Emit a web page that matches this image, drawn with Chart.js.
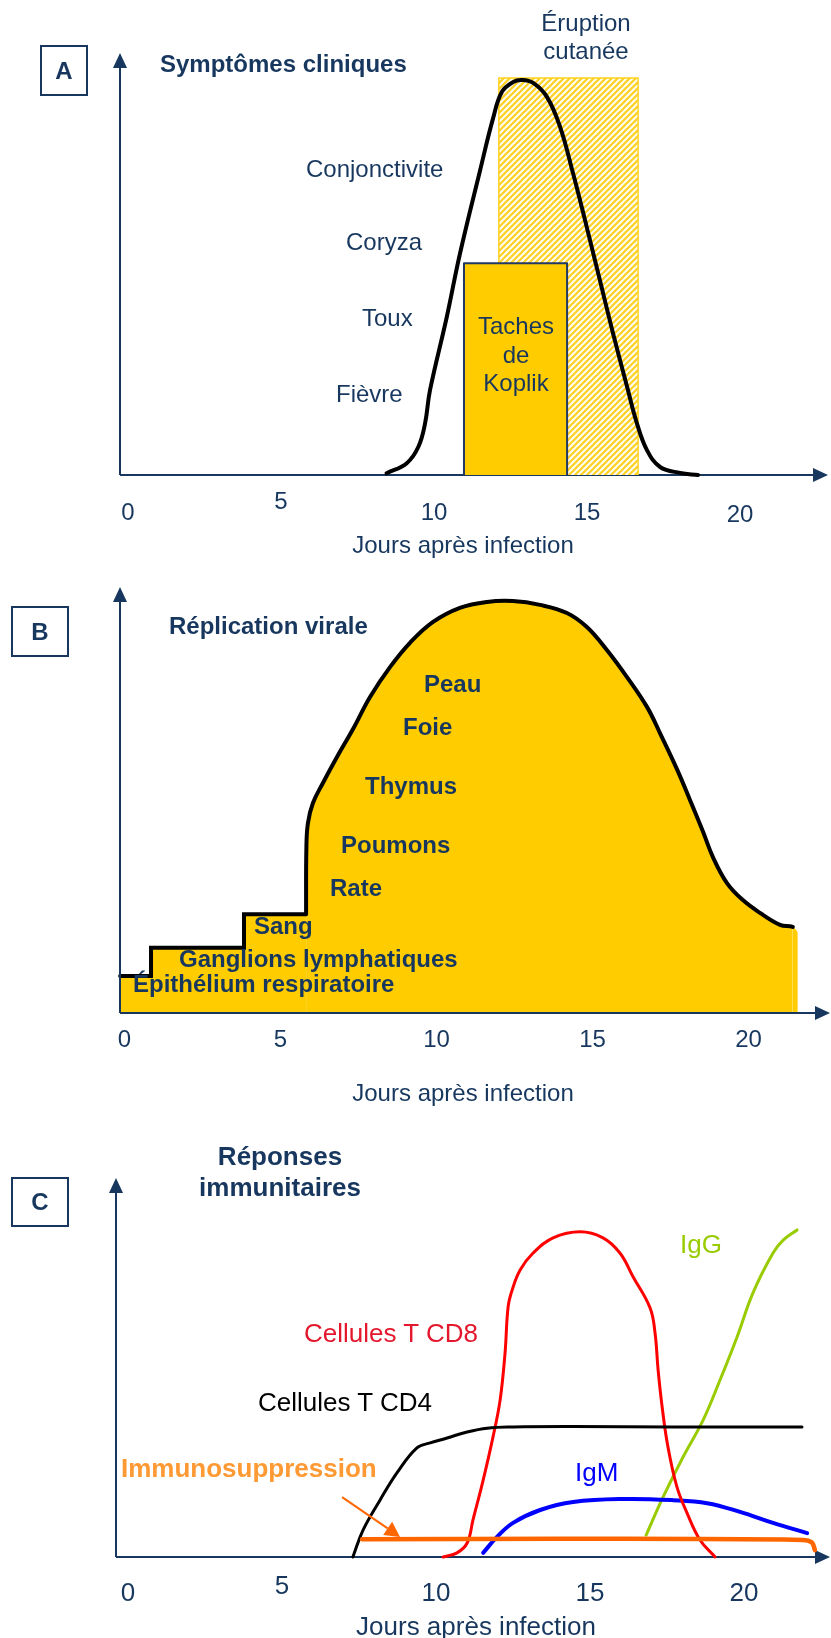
<!DOCTYPE html>
<html lang="fr">
<head>
<meta charset="utf-8">
<script src="https://cdn.jsdelivr.net/npm/chart.js@4.4.1/dist/chart.umd.min.js"></script>
<style>
  body { margin: 0; background: #fff; width: 831px; height: 1638px; position: relative; overflow: hidden;
         font-family: "Liberation Sans", Arial, sans-serif; }
  canvas { position: absolute; left: 0; }
  .t { position: absolute; font-size: 24px; line-height: 28px; color: #17375E; white-space: nowrap; z-index: 2; }
  .b { font-weight: bold; }
  .c { transform: translateX(-50%); text-align: center; }
  .big { font-size: 26px; line-height: 30px; }
  .box { position: absolute; border: 2.5px solid #17375E; box-sizing: border-box; font-weight: bold; font-size: 24px;
         color: #17375E; display: flex; align-items: center; justify-content: center; z-index: 2; }
</style>
</head>
<body>
<canvas id="chartA" width="831" height="560" style="top:0"></canvas>
<canvas id="chartB" width="831" height="560" style="top:560px"></canvas>
<canvas id="chartC" width="831" height="518" style="top:1120px"></canvas>

<!-- panneau A -->
<div class="box" style="left:40px;top:45px;width:48px;height:51px">A</div>
<div class="t b" style="left:160px;top:50px">Symptômes cliniques</div>
<div class="t c" style="left:586px;top:9px">Éruption<br>cutanée</div>
<div class="t" style="left:306px;top:155px">Conjonctivite</div>
<div class="t" style="left:346px;top:228px">Coryza</div>
<div class="t" style="left:362px;top:304px">Toux</div>
<div class="t" style="left:336px;top:380px">Fièvre</div>
<div class="t c" style="left:516px;top:312px;line-height:28.5px">Taches<br>de<br>Koplik</div>
<div class="t c" style="left:463px;top:531px">Jours après infection</div>

<!-- panneau B -->
<div class="box" style="left:11px;top:606px;width:58px;height:51px">B</div>
<div class="t b" style="left:169px;top:612px">Réplication virale</div>
<div class="t b" style="left:424px;top:670px">Peau</div>
<div class="t b" style="left:403px;top:713px">Foie</div>
<div class="t b" style="left:365px;top:772px">Thymus</div>
<div class="t b" style="left:341px;top:831px">Poumons</div>
<div class="t b" style="left:330px;top:874px">Rate</div>
<div class="t b" style="left:254px;top:912px">Sang</div>
<div class="t b" style="left:179px;top:945px">Ganglions lymphatiques</div>
<div class="t b" style="left:133px;top:970px">Épithélium respiratoire</div>
<div class="t c" style="left:463px;top:1079px">Jours après infection</div>

<!-- panneau C -->
<div class="box big" style="left:11px;top:1177px;width:58px;height:50px">C</div>
<div class="t b c big" style="left:280px;top:1141px;line-height:31px">Réponses<br>immunitaires</div>
<div class="t big" style="left:304px;top:1318px;color:#E3182D">Cellules T CD8</div>
<div class="t big" style="left:258px;top:1387px;color:#000">Cellules T CD4</div>
<div class="t b big" style="left:121px;top:1453px;color:#FF9933">Immunosuppression</div>
<div class="t big" style="left:575px;top:1457px;color:#0000FF">IgM</div>
<div class="t big" style="left:680px;top:1229px;color:#99CC00">IgG</div>
<div class="t c big" style="left:476px;top:1611px">Jours après infection</div>

<script>
// jours (axe x) et niveaux relatifs (0-100, 100 = pointe de la flèche)
const dayTicks = [0, 5, 10, 15, 20];

// A - symptômes cliniques
const symptomDays  = [8.45, 9.11, 9.49, 9.71, 9.87, 10.42, 10.85, 11.5, 11.93, 12.22, 12.58, 12.88, 13.24, 13.69, 14.12, 14.54, 14.99, 15.42, 15.85, 16.31, 16.63, 16.96, 17.39, 18.04, 18.63];
const symptomLevel = [0.4, 2.8, 6.7, 12.3, 20.1, 37.5, 52.5, 72, 84.5, 90.8, 93.1, 93.6, 92.9, 89.6, 82.5, 71.6, 58.8, 46.2, 33.6, 20.9, 12.3, 5.9, 1.9, 0.5, 0];
const rashDays    = [12.12, 12.12, 16.67, 16.67];
const rashLevel   = [0, 94.1, 94.1, 0];
const koplikDays  = [10.98, 10.98, 14.35, 14.35];
const koplikLevel = [0, 50.2, 50.2, 0];

// B - réplication virale (paliers puis courbe)
const stepDays   = [-0.14, 0.85, 0.85, 3.83, 3.83, 5.83];
const stepLevel  = [8.7, 8.7, 15.3, 15.3, 23.2, 23.2];
const viralDays  = [5.82, 5.83, 5.88, 6.04, 6.36, 6.81, 7.32, 7.87, 8.51, 9.15, 9.89, 10.75, 11.62, 12.45, 13.32, 14.18, 14.82, 15.46, 16.1, 16.75, 17.17, 17.71, 18.13, 18.54, 18.86, 19.31, 19.82, 20.37, 21.01, 21.42, 21.58];
const viralLevel = [23.2, 39.0, 44.6, 49.3, 54.0, 60.1, 66.6, 74.2, 81.2, 86.9, 91.8, 95.1, 96.5, 96.7, 95.8, 93.9, 90.6, 85.2, 78.9, 71.8, 65.6, 57.2, 49.9, 42.6, 36.6, 30.5, 26.5, 23.5, 20.7, 20.2, 19.0];

// C - réponses immunitaires
const cd4Days  = [7.3, 7.63, 8.18, 8.73, 9.38, 9.81, 10.36, 11.01, 11.66, 12.5, 14.45, 17.69, 21.88];
const cd4Level = [0, 7.1, 15.0, 22.2, 28.8, 30.1, 31.4, 33.0, 34.0, 34.3, 34.4, 34.3, 34.3];
const cd8Days  = [10.23, 10.68, 11.01, 11.2, 11.53, 11.85, 12.08, 12.24, 12.34, 12.47, 12.73, 13.15, 13.8, 14.68, 15.42, 15.97, 16.4, 16.95, 17.11, 17.21, 17.34, 17.53, 17.82, 18.15, 18.57, 19.06];
const cd8Level = [0, 1.1, 3.7, 9.8, 20.3, 31.7, 41.4, 53.8, 66.0, 70.4, 75.7, 80.2, 84.2, 85.8, 84.2, 80.2, 73.9, 65.7, 59.1, 49.3, 39.6, 29.0, 18.5, 11.6, 4.5, 0];
const igmDays  = [11.53, 11.98, 12.5, 13.38, 14.45, 16.07, 17.69, 18.8, 19.87, 20.94, 22.05];
const igmLevel = [1.1, 5.3, 9.0, 12.4, 14.5, 15.3, 15.0, 14.2, 11.9, 9.0, 6.3];
const iggDays  = [16.82, 17.37, 18.02, 18.67, 19.22, 19.77, 20.29, 20.94, 21.27, 21.72];
const iggLevel = [5.8, 15.8, 26.4, 36.1, 46.7, 58.0, 69.7, 80.2, 83.6, 86.3];
const suppDays  = [7.6, 14, 21.9, 22.2, 22.3];
const suppLevel = [4.7, 4.8, 4.5, 3.8, 1.8];
const suppArrowDays  = [6.95, 8.83];
const suppArrowLevel = [15.8, 5.3];

const NAVY = '#17375E';
const pts = (xs, ys) => xs.map((x, i) => ({ x: x, y: ys[i] }));

// axes avec flèches + graduations
const axesPlugin = {
  id: 'axes',
  beforeDatasetsDraw(chart, args, opts) { if (!opts.onTop) drawAxes(chart, opts); },
  afterDatasetsDraw(chart, args, opts) {
    if (opts.onTop) drawAxes(chart, opts);
    if (opts.pointer) drawPointer(chart, opts.pointer);
  }
};

function drawAxes(chart, opts) {
  const { ctx, chartArea: a, scales: { x } } = chart;
  ctx.save();
  ctx.strokeStyle = NAVY;
  ctx.fillStyle = NAVY;
  ctx.lineWidth = 2;
  ctx.beginPath();
  ctx.moveTo(a.left, a.bottom);
  ctx.lineTo(a.left, a.top + 12);
  ctx.moveTo(a.left, a.bottom);
  ctx.lineTo(a.right - 12, a.bottom);
  ctx.stroke();
  ctx.beginPath();
  ctx.moveTo(a.left, a.top);
  ctx.lineTo(a.left - 7, a.top + 15);
  ctx.lineTo(a.left + 7, a.top + 15);
  ctx.closePath();
  ctx.fill();
  ctx.beginPath();
  ctx.moveTo(a.right, a.bottom);
  ctx.lineTo(a.right - 15, a.bottom - 7);
  ctx.lineTo(a.right - 15, a.bottom + 7);
  ctx.closePath();
  ctx.fill();

  ctx.font = opts.tickFont;
  ctx.textAlign = 'center';
  ctx.textBaseline = 'middle';
  dayTicks.forEach((d, i) => {
    ctx.fillText(String(d), x.getPixelForValue(d), a.bottom + opts.tickOffsets[i]);
  });
  ctx.restore();
}

function drawPointer(chart, p) {
  const { ctx, scales: { x, y } } = chart;
  const x1 = x.getPixelForValue(p.days[0]), y1 = y.getPixelForValue(p.levels[0]);
  const x2 = x.getPixelForValue(p.days[1]), y2 = y.getPixelForValue(p.levels[1]);
  const ang = Math.atan2(y2 - y1, x2 - x1);
  const len = 15, half = 8;
  const bx = x2 - len * Math.cos(ang), by = y2 - len * Math.sin(ang);
  ctx.save();
  ctx.strokeStyle = p.color;
  ctx.fillStyle = p.color;
  ctx.lineWidth = 2;
  ctx.beginPath();
  ctx.moveTo(x1, y1);
  ctx.lineTo(bx, by);
  ctx.stroke();
  ctx.beginPath();
  ctx.moveTo(x2, y2);
  ctx.lineTo(bx + half * Math.sin(ang), by - half * Math.cos(ang));
  ctx.lineTo(bx - half * Math.sin(ang), by + half * Math.cos(ang));
  ctx.closePath();
  ctx.fill();
  ctx.restore();
}

function hatch(canvasId) {
  const tile = document.createElement('canvas');
  tile.width = 6; tile.height = 6;
  const g = tile.getContext('2d');
  g.fillStyle = '#fff';
  g.fillRect(0, 0, 6, 6);
  g.strokeStyle = '#FFD32E';
  g.lineWidth = 2.3;
  g.beginPath();
  g.moveTo(-1, 7); g.lineTo(7, -1);
  g.moveTo(-4, 4); g.lineTo(4, -4);
  g.moveTo(2, 10); g.lineTo(10, 2);
  g.stroke();
  return document.getElementById(canvasId).getContext('2d').createPattern(tile, 'repeat');
}

function makeChart(id, datasets, xmin, xmax, padding, axesOpts) {
  return new Chart(document.getElementById(id), {
    type: 'line',
    data: { datasets: datasets },
    options: {
      responsive: false,
      animation: false,
      events: [],
      layout: { padding: padding },
      elements: { point: { radius: 0 }, line: { borderJoinStyle: 'round', borderCapStyle: 'round' } },
      scales: {
        x: { type: 'linear', min: xmin, max: xmax, display: false },
        y: { type: 'linear', min: 0, max: 100, display: false }
      },
      plugins: { legend: { display: false }, tooltip: { enabled: false }, axes: axesOpts }
    },
    plugins: [axesPlugin]
  });
}

const curve = (xs, ys, color, width) => ({
  data: pts(xs, ys), borderColor: color, borderWidth: width, tension: 0.4, fill: false, clip: false
});

// A
makeChart('chartA', [
  curve(symptomDays, symptomLevel, '#000', 4),
  { data: pts(koplikDays, koplikLevel), borderColor: '#1F3864', borderWidth: 2, backgroundColor: '#FFCC00', fill: 'origin', tension: 0 },
  { data: pts(rashDays, rashLevel), borderColor: '#FFD21F', borderWidth: 1.5, backgroundColor: hatch('chartA'), fill: 'origin', tension: 0 }
], -0.261, 22.876, { left: 120, top: 53, right: 3, bottom: 85 },
  { onTop: false, tickFont: '24px "Liberation Sans", Arial, sans-serif', tickOffsets: [38, 27, 38, 38, 40] });

// B
makeChart('chartB', [
  { data: pts(viralDays, viralLevel), borderColor: '#000', borderWidth: 4, backgroundColor: '#FFCC00',
    fill: 'origin', tension: 0.4, clip: false,
    segment: { borderColor: c => c.p1DataIndex === viralDays.length - 1 ? 'rgba(0,0,0,0)' : '#000' } },
  { data: pts(stepDays, stepLevel), borderColor: '#000', borderWidth: 4, backgroundColor: '#FFCC00',
    fill: 'origin', tension: 0, clip: false, borderJoinStyle: 'miter' }
], -0.144, 22.612, { left: 120, top: 27, right: 1, bottom: 107 },
  { onTop: true, tickFont: '24px "Liberation Sans", Arial, sans-serif', tickOffsets: [27, 27, 27, 27, 27] });

// C
makeChart('chartC', [
  curve(suppDays, suppLevel, '#FF6600', 4.5),
  curve(cd4Days, cd4Level, '#000', 3),
  curve(cd8Days, cd8Level, '#FF0000', 3),
  curve(igmDays, igmLevel, '#0000FF', 4),
  curve(iggDays, iggLevel, '#99CC00', 3)
], -0.39, 22.79, { left: 116, top: 58, right: 1, bottom: 81 },
  { onTop: false, tickFont: '26px "Liberation Sans", Arial, sans-serif', tickOffsets: [37, 30, 37, 37, 37],
    pointer: { days: suppArrowDays, levels: suppArrowLevel, color: '#FF6600' } });
</script>
</body>
</html>
